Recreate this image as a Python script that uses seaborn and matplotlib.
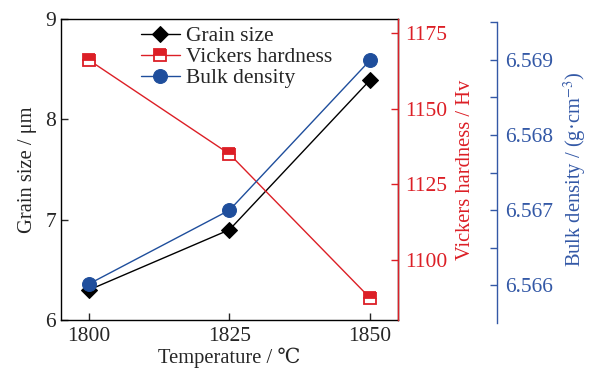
import matplotlib
matplotlib.use("Agg")
import matplotlib.pyplot as plt
from matplotlib.ticker import MultipleLocator, FormatStrFormatter
import seaborn as sns

temperature = [1800, 1825, 1850]
grain_size = [6.30, 6.90, 8.39]
vickers = [1166.0, 1135.0, 1087.5]
density = [6.56602, 6.56700, 6.56899]

xticks = [1800, 1825, 1850]
grain_ticks = [6, 7, 8, 9]
vickers_ticks = [1100, 1125, 1150, 1175]
density_ticks = [6.566, 6.567, 6.568, 6.569]

RED = "#dc1f26"
BLUE = "#1f4e9c"
BLUE_AX = "#3358a6"

sns.set_style("ticks")
plt.rcParams["font.family"] = ["Liberation Serif", "DejaVu Serif"]
plt.rcParams["mathtext.fontset"] = "stix"
FS_TICK = 15.5
FS_LAB = 14.8
FS_LEG = 15.5

fig = plt.figure(figsize=(5.9, 3.7), dpi=100)
ax = fig.add_axes([61/590, 1-320/370, 337/590, 301/370])
ax2 = ax.twinx()
ax3 = ax.twinx()

sns.lineplot(x=temperature, y=grain_size, ax=ax, color="black", marker="D",
             markersize=8.5, markeredgecolor="black", linewidth=1.0, label="Grain size")
sns.lineplot(x=temperature, y=vickers, ax=ax2, color=RED, marker="s",
             markersize=8, markeredgecolor=RED, markerfacecolor=RED, fillstyle="top",
             markerfacecoloralt="white", markeredgewidth=1.3, linewidth=1.0,
             label="Vickers hardness")
sns.lineplot(x=temperature, y=density, ax=ax3, color=BLUE, marker="o",
             markersize=10, markeredgecolor=BLUE, linewidth=1.0, label="Bulk density")

for a in (ax, ax2, ax3):
    lg = a.get_legend()
    if lg is not None:
        lg.remove()

ax.set_xlim(1795, 1855)
ax.set_ylim(6, 9)
ax.set_xticks(xticks)
ax.set_yticks(grain_ticks)
ax.tick_params(axis="both", direction="in", labelsize=FS_TICK, length=5, width=1)
ax.tick_params(axis="x", pad=5)
ax.set_xlabel("Temperature / ℃", fontsize=FS_LAB, labelpad=1)
ax.set_ylabel("Grain size / μm", fontsize=FS_LAB, labelpad=6)
for s in ax.spines.values():
    s.set_linewidth(1.0)
    s.set_color("black")

ax2.set_ylim(1080.2, 1179.6)
ax2.set_yticks(vickers_ticks)
ax2.tick_params(axis="y", direction="in", colors=RED, labelsize=FS_TICK, length=5,
                width=1, pad=5)
ax2.set_ylabel("Vickers hardness / Hv", fontsize=FS_LAB, color=RED, labelpad=6)
ax2.spines["right"].set_color(RED)
ax2.spines["right"].set_linewidth(1.0)
for k in ("top", "left", "bottom"):
    ax2.spines[k].set_visible(False)

ax3.set_ylim(6.56554, 6.56954)
ax3.spines["right"].set_position(("axes", 1.294))
ax3.spines["right"].set_color(BLUE_AX)
ax3.spines["right"].set_linewidth(1.0)
ax3.spines["right"].set_bounds(6.5655, 6.5695)
for k in ("top", "left", "bottom"):
    ax3.spines[k].set_visible(False)
ax3.set_yticks(density_ticks)
ax3.yaxis.set_major_formatter(FormatStrFormatter("%.3f"))
ax3.yaxis.set_minor_locator(MultipleLocator(0.0005))
ax3.tick_params(axis="y", which="both", direction="in", colors=BLUE_AX,
                labelsize=FS_TICK, length=5, width=1, pad=6)
ax3.set_ylabel("Bulk density / (g·cm$^{-3}$)", fontsize=FS_LAB, color=BLUE_AX,
               labelpad=6)

handles = []
labels = []
for a in (ax, ax2, ax3):
    h, l = a.get_legend_handles_labels()
    handles += h
    labels += l
ax.legend(handles, labels, loc="upper left", bbox_to_anchor=(0.212, 1.005),
          frameon=False, fontsize=FS_LEG, handlelength=1.8, handletextpad=0.3,
          labelspacing=0.05, borderaxespad=0.0)

fig.savefig("out.png", dpi=100)
